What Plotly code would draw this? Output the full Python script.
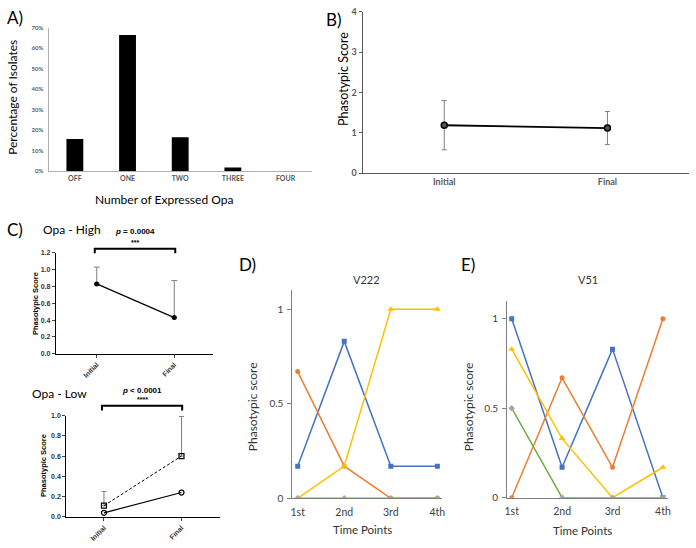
import plotly.graph_objects as go

W, H = 696, 548
def px(x): return x / W
def py(y): return 1 - y / H

# ---------------- data ----------------
opa_categories = ["OFF", "ONE", "TWO", "THREE", "FOUR"]
opa_percent = [15.8, 66.5, 16.6, 1.8, 0.0]

b_categories = ["Initial", "Final"]
b_scores = [1.19, 1.12]
b_err = [0.61, 0.41]

c_categories = ["Initial", "Final"]
c_high_scores = [0.83, 0.43]
c_high_err = [0.20, 0.44]
c_low_solid = [0.04, 0.24]
c_low_dashed = [0.11, 0.60]
c_low_dashed_err = [0.14, 0.39]

time_points = ["1st", "2nd", "3rd", "4th"]
v222_blue = [0.17, 0.83, 0.17, 0.17]
v222_orange = [0.67, 0.17, 0.0, 0.0]
v222_yellow = [0.0, 0.17, 1.0, 1.0]
v222_green = [0.0, 0.0, 0.0, 0.0]
v51_blue = [1.0, 0.17, 0.83, 0.0]
v51_orange = [0.0, 0.67, 0.17, 1.0]
v51_yellow = [0.83, 0.33, 0.0, 0.17]
v51_green = [0.5, 0.0, 0.0, 0.0]

BLUE, ORANGE, YELLOW, GREEN, GRAY = "#4472C4", "#ED7D31", "#FFC000", "#70AD47", "#A5A5A5"
XL = "Lato"
PR = "Liberation Sans"

fig = go.Figure()

# A) bar chart
fig.add_trace(go.Bar(x=opa_categories, y=opa_percent, marker=dict(color="black", line=dict(width=0)),
                     width=0.32, xaxis="x", yaxis="y", showlegend=False))

# B)
fig.add_trace(go.Scatter(x=b_categories, y=b_scores, mode="lines+markers",
                         line=dict(color="black", width=1.8),
                         marker=dict(symbol="circle", size=6, color="#555555", line=dict(color="black", width=1.5)),
                         error_y=dict(type="data", array=b_err, color="#7f7f7f", thickness=1, width=2.5),
                         xaxis="x2", yaxis="y2", showlegend=False))

# C) high
fig.add_trace(go.Scatter(x=c_categories, y=c_high_scores, mode="lines+markers",
                         line=dict(color="black", width=1.2),
                         marker=dict(symbol="circle", size=5, color="black"),
                         error_y=dict(type="data", array=c_high_err, arrayminus=[0, 0], color="#808080", thickness=1, width=3),
                         xaxis="x3", yaxis="y3", showlegend=False))

# C) low
fig.add_trace(go.Scatter(x=c_categories, y=c_low_dashed, mode="lines+markers",
                         line=dict(color="black", width=1, dash="3px,2px"),
                         marker=dict(symbol="square-open", size=5, color="black", line=dict(width=1.2)),
                         error_y=dict(type="data", array=c_low_dashed_err, arrayminus=[0, 0], color="#808080", thickness=1, width=2.5),
                         xaxis="x4", yaxis="y4", showlegend=False))
fig.add_trace(go.Scatter(x=c_categories, y=c_low_solid, mode="lines+markers",
                         line=dict(color="black", width=1.2),
                         marker=dict(symbol="circle-open", size=5, color="black", line=dict(width=1.2)),
                         xaxis="x4", yaxis="y4", showlegend=False))

# D) and E)
def add_series(xa, ya, blue, orange, yellow, green):
    fig.add_trace(go.Scatter(x=time_points, y=blue, mode="lines+markers", line=dict(color=BLUE, width=1.5),
                             marker=dict(symbol="square", size=5, color=BLUE), xaxis=xa, yaxis=ya, showlegend=False))
    fig.add_trace(go.Scatter(x=time_points, y=orange, mode="lines+markers", line=dict(color=ORANGE, width=1.5),
                             marker=dict(symbol="circle", size=5, color=ORANGE), xaxis=xa, yaxis=ya, showlegend=False))
    fig.add_trace(go.Scatter(x=time_points, y=yellow, mode="lines+markers", line=dict(color=YELLOW, width=1.5),
                             marker=dict(symbol="triangle-up", size=6, color=YELLOW), xaxis=xa, yaxis=ya, showlegend=False))
    fig.add_trace(go.Scatter(x=time_points, y=green, mode="lines+markers", line=dict(color=GREEN, width=1.5),
                             marker=dict(symbol="diamond", size=5, color=GRAY), xaxis=xa, yaxis=ya, showlegend=False))

add_series("x5", "y5", v222_blue, v222_orange, v222_yellow, v222_green)
add_series("x6", "y6", v51_blue, v51_orange, v51_yellow, v51_green)

base_ax = dict(showgrid=False, zeroline=False, showline=True)

fig.update_layout(
    width=W, height=H, margin=dict(l=0, r=0, t=0, b=0),
    paper_bgcolor="white", plot_bgcolor="rgba(0,0,0,0)",
    # A
    xaxis=dict(base_ax, domain=[px(46), px(312)], anchor="y", type="category", range=[-0.5, 4.5],
               linecolor="#b0b0b0", linewidth=1, ticks="",
               tickfont=dict(family=XL, size=7, color="#595959", weight="bold")),
    yaxis=dict(base_ax, domain=[py(169), py(22.3)], anchor="x", range=[0, 70], dtick=10, ticksuffix="%",
               linecolor="#b0b0b0", linewidth=1, ticks="", ticklabelstandoff=3,
               tickfont=dict(family=XL, size=6, color="#595959", weight="bold")),
    # B
    xaxis2=dict(base_ax, domain=[px(363.3), px(693)], anchor="y2", type="category", range=[-0.5, 1.5],
                linecolor="#595959", linewidth=1, ticks="",
                tickfont=dict(family=XL, size=9, color="#595959", weight="bold")),
    yaxis2=dict(base_ax, domain=[py(171), py(6)], anchor="x2", range=[0, 4], dtick=1,
                linecolor="#595959", linewidth=1, ticks="outside", ticklen=3, tickcolor="#595959",
                tickfont=dict(family=XL, size=9, color="#595959", weight="bold")),
    # C high
    xaxis3=dict(base_ax, domain=[px(53.5), px(212)], anchor="y3", type="category", range=[-0.526, 1.498],
                linecolor="black", linewidth=1.3, ticks="outside", ticklen=3, tickangle=-45,
                tickfont=dict(family=PR, size=7, color="#333333", weight="bold")),
    yaxis3=dict(base_ax, domain=[py(355.6), py(252.3)], anchor="x3", range=[0, 1.2], dtick=0.2, tickformat=".1f",
                linecolor="black", linewidth=1.3, ticks="outside", ticklen=3,
                tickfont=dict(family=PR, size=7, color="#333333", weight="bold")),
    # C low
    xaxis4=dict(base_ax, domain=[px(64), px(219)], anchor="y4", type="category", range=[-0.485, 1.494],
                linecolor="black", linewidth=1.3, ticks="outside", ticklen=3, tickangle=-45,
                tickfont=dict(family=PR, size=7, color="#333333", weight="bold")),
    yaxis4=dict(base_ax, domain=[py(522.3), py(418.7)], anchor="x4", range=[0, 1.0], dtick=0.2, tickformat=".1f",
                linecolor="black", linewidth=1.3, ticks="outside", ticklen=3,
                tickfont=dict(family=PR, size=7, color="#333333", weight="bold")),
    # D
    xaxis5=dict(base_ax, domain=[px(292.3), px(443)], anchor="y5", type="category", range=[-0.115, 3.09],
                linecolor="#7f7f7f", linewidth=1, ticks="", ticklabelstandoff=4,
                tickfont=dict(family=XL, size=10.5, color="#404040")),
    yaxis5=dict(base_ax, domain=[py(503.3), py(290.7)], anchor="x5", range=[0, 1.1], tickvals=[0, 0.5, 1],
                linecolor="#7f7f7f", linewidth=1, ticks="outside", ticklen=4, tickcolor="#7f7f7f", ticklabelstandoff=2,
                tickfont=dict(family=XL, size=10, color="#404040")),
    # E
    xaxis6=dict(base_ax, domain=[px(509.3), px(671.7)], anchor="y6", type="category", range=[-0.09, 3.10],
                linecolor="#7f7f7f", linewidth=1, ticks="", ticklabelstandoff=4,
                tickfont=dict(family=XL, size=10.5, color="#404040")),
    yaxis6=dict(base_ax, domain=[py(502.7), py(301.4)], anchor="x6", range=[0, 1.1], tickvals=[0, 0.5, 1],
                linecolor="#7f7f7f", linewidth=1, ticks="outside", ticklen=4, tickcolor="#7f7f7f", ticklabelstandoff=2,
                tickfont=dict(family=XL, size=10, color="#404040")),
)

def txt(x, y, s, size, family=XL, color="black", angle=0, weight="normal", xanchor="center"):
    fig.add_annotation(x=px(x), y=py(y), xref="paper", yref="paper", text=s, showarrow=False,
                       textangle=angle, xanchor=xanchor, yanchor="middle",
                       font=dict(family=family, size=size, color=color, weight=weight))

# panel letters
txt(2, 12, "A)", 17, xanchor="left")
txt(324, 14, "B)", 17, xanchor="left")
txt(2, 229, "C)", 17, xanchor="left")
txt(236, 264, "D)", 17, xanchor="left")
txt(461, 264, "E)", 17, xanchor="left")

# A titles
txt(10, 93, "Percentage of Isolates", 12, angle=-90)
txt(163, 198, "Number of Expressed Opa", 12)
# B title
txt(344, 75, "Phasotypic Score", 12.5, angle=-90)

# C texts
txt(70, 228, "Opa - High", 12)
txt(133.5, 230.7, "<i>p</i> = 0.0004", 8, family=PR, weight="bold")
txt(133.5, 241.5, "***", 7, family=PR, weight="bold")
txt(33, 304, "Phasotypic Score", 7.5, family=PR, angle=-90, weight="bold")
txt(57, 396, "Opa - Low", 12)
txt(140.5, 393.3, "<i>p</i> &lt; 0.0001", 8, family=PR, weight="bold")
txt(140.5, 402.5, "****", 7, family=PR, weight="bold")
txt(40.7, 470, "Phasotypic Score", 7.5, family=PR, angle=-90, weight="bold")

# brackets
for x0, x1, ytop, ybot in [(92.7, 174, 248.3, 252.8), (100, 181, 408.7, 413.5)]:
    fig.add_shape(type="path", xref="paper", yref="paper",
                  path=f"M {px(x0)} {py(ybot)} L {px(x0)} {py(ytop)} L {px(x1)} {py(ytop)} L {px(x1)} {py(ybot)}",
                  line=dict(color="black", width=2))

# D / E texts
txt(366.7, 279.3, "V222", 11, color="#333333")
txt(251.7, 410, "Phasotypic score", 12, angle=-90, color="#333333")
txt(363, 535, "Time Points", 11.5, color="#333333")
txt(590.7, 279.3, "V51", 11, color="#333333")
txt(470, 410, "Phasotypic score", 12, angle=-90, color="#333333")
txt(585, 536.5, "Time Points", 11.5, color="#333333")

fig.write_html("out.html", config={"displayModeBar": False},
               post_script="document.body.style.margin='0px';document.body.style.padding='0px';document.body.style.overflow='hidden';")
